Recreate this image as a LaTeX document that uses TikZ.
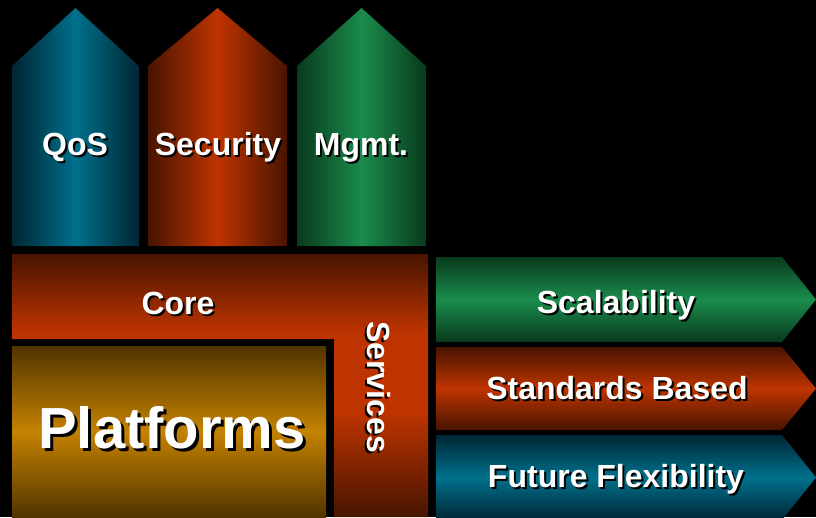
\documentclass[tikz,border=0pt]{standalone}
\usepackage{fontspec}
\setmainfont{Liberation Sans}

\definecolor{qos}{RGB}{0,112,140}
\definecolor{qosdark}{RGB}{0,38,52}
\definecolor{sec}{RGB}{190,52,0}
\definecolor{secdark}{RGB}{72,20,0}
\definecolor{mgmt}{RGB}{26,140,76}
\definecolor{mgmtdark}{RGB}{8,58,28}
\definecolor{plat}{RGB}{196,130,0}
\definecolor{platdark}{RGB}{82,52,0}

\pgfdeclareverticalshading{coreshade}{100bp}{color(0bp)=(secdark); color(25bp)=(secdark); color(45bp)=(sec); color(60bp)=(sec); color(75bp)=(secdark); color(100bp)=(secdark)}

% weisser Text mit schwarzem Schatten
\newcommand{\shadowed}[2][2pt]{\leavevmode\rlap{\hspace{#1}\raisebox{-#1}{\color{black}#2}}#2}

\tikzset{
	boxtext/.style={text=white, font=\bfseries\fontsize{32}{32}\selectfont, inner sep=0pt, anchor=base},
	bigtext/.style={text=white, font=\bfseries\fontsize{58}{58}\selectfont, inner sep=0pt, anchor=base}
}

\begin{document}
\begin{tikzpicture}[x=1pt,y=-1pt]
\fill[black] (0,0) rectangle (816,517);
\clip (0,0) rectangle (816,517);

%Saeulen oben
\foreach \l/\r/\col in {12/139/qos, 148/287/sec, 297/426/mgmt}
{
	\path[left color=\col dark, right color=\col dark, middle color=\col]
		(\l,246) -- (\l,66) -- ({(\l+\r)/2},8) -- (\r,66) -- (\r,246) -- cycle;
}

%Core / Services
\path[shading=coreshade] (12,254) -- (428,254) -- (428,517) -- (334,517) -- (334,339) -- (12,339) -- cycle;

%Platforms
\path[top color=platdark, bottom color=platdark, middle color=plat] (12,346) rectangle (326,517);

%Pfeile rechts
\foreach \t/\b/\col in {257/342/mgmt, 347/430/sec, 435/520/qos}
{
	\path[top color=\col dark, bottom color=\col dark, middle color=\col]
		(436,\t) -- (782,\t) -- (816,{(\t+\b)/2}) -- (782,\b) -- (436,\b) -- cycle;
}

%Beschriftung
\foreach \x/\y/\n/\t in
{
75/155/qos/QoS,
218/155/security/Security,
361/155/mgmt/Mgmt.,
178/314/core/Core,
616/313/scalability/Scalability,
617/399/standards/Standards Based,
616/487/flexibility/Future Flexibility
}
{
	\node[boxtext] (\n) at (\x,\y) {\shadowed{\t}};
}

\node[boxtext, anchor=center, rotate=-90] (services) at (378,387) {\shadowed{Services}};

\node[bigtext] (platforms) at (172,448) {\shadowed[3pt]{Platforms}};

\end{tikzpicture}
\end{document}
